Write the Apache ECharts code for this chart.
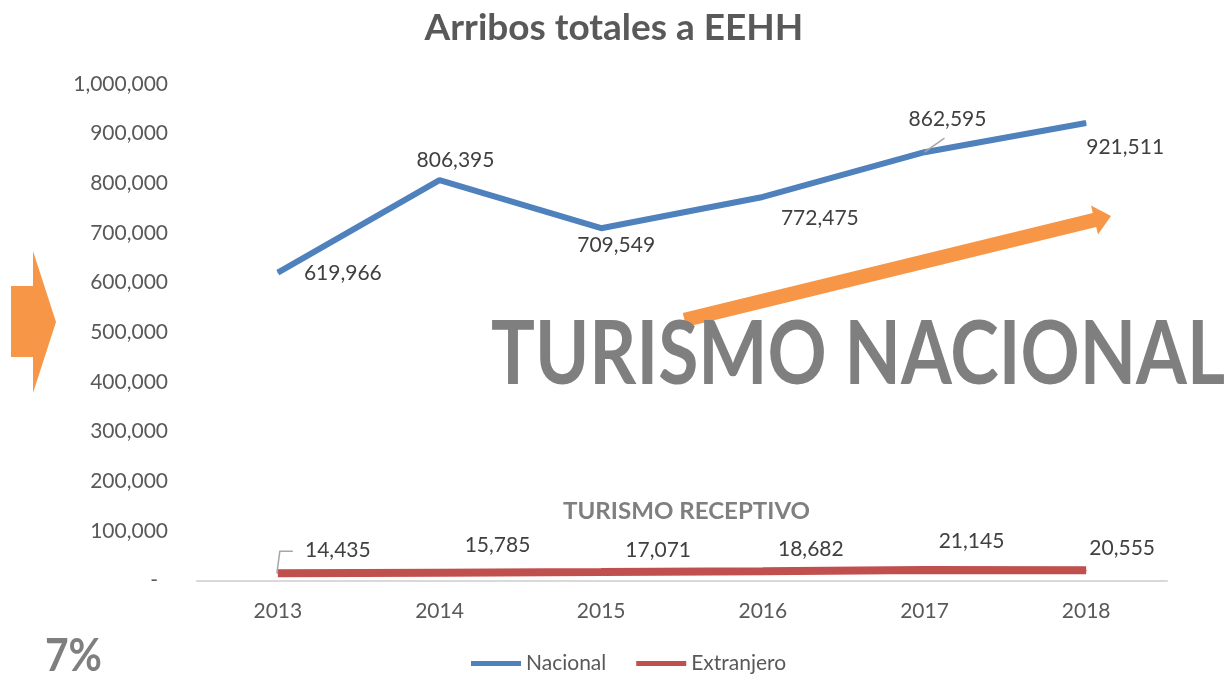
<!DOCTYPE html>
<html><head><meta charset="utf-8">
<script src="https://cdn.jsdelivr.net/npm/echarts@6/dist/echarts.min.js"></script>
<style>html,body{margin:0;padding:0;background:#fff}#c{width:1228px;height:676px}</style>
</head><body><div id="c"></div>
<script>
// ---- data ----
const years = ['2013', '2014', '2015', '2016', '2017', '2018'];
const nacional = [619966, 806395, 709549, 772475, 862595, 921511];
const extranjero = [14435, 15785, 17071, 18682, 21145, 20555];
const seriesNames = ['Nacional', 'Extranjero'];
const titleText = 'Arribos totales a EEHH';
const bigText = 'TURISMO NACIONAL';
const subText = 'TURISMO RECEPTIVO';
const pctText = '7%';

// ---- layout (label offsets from their points, in px) ----
const nacOff = [[65, 1], [16, -20], [15, 17], [57, 21], [23, -33], [39, 24]];
const extOff = [[60, -23], [58, -27], [57, -22], [48, -22], [47, -29], [36, -22]];
// leader lines: [seriesIndex, dataIndex, relative polyline from the point]
const leaders = [
  [0, 4, [[0, 0], [20, -14]]],
  [1, 0, [[-1, 0], [2, -22], [15, -22]]]
];

const FONT = 'Lato';
function fitScale(text, font, w) {
  const ctx = document.createElement('canvas').getContext('2d');
  ctx.font = font;
  return w / ctx.measureText(text).width;
}
const fmt = v => v.toLocaleString('en-US');

function items(vals, offs) {
  return vals.map((v, i) => ({ value: v, label: { offset: offs[i] } }));
}

const bigFont = 'bold 88px ' + FONT;
const subFont = 'bold 23px ' + FONT;
const pctFont = 'bold 46px ' + FONT;

const chart = echarts.init(document.getElementById('c'));
const labelCommon = { show: true, position: 'inside', formatter: p => fmt(p.value),
  fontFamily: FONT, fontSize: 21, color: '#404040' };

chart.setOption({
  animation: false,
  backgroundColor: '#ffffff',
  title: {
    text: titleText, left: 'center', top: 5,
    textStyle: { fontFamily: FONT, fontWeight: 'bold', fontSize: 37, color: '#595959' }
  },
  grid: { left: 197, right: 61, top: 84, bottom: 95.5 },
  legend: {
    data: seriesNames, left: 466, top: 648, icon: 'rect',
    itemWidth: 50, itemHeight: 5, itemGap: 30,
    textStyle: { fontFamily: FONT, fontSize: 21, color: '#595959' }
  },
  xAxis: {
    type: 'category', data: years, boundaryGap: true,
    axisLine: { lineStyle: { color: '#d9d9d9', width: 2 } },
    axisTick: { show: false },
    axisLabel: { margin: 20, fontFamily: FONT, fontSize: 21, color: '#595959' }
  },
  yAxis: {
    type: 'value', min: 0, max: 1000000, interval: 100000,
    splitLine: { show: false }, axisLine: { show: false }, axisTick: { show: false },
    axisLabel: {
      margin: 29, fontFamily: FONT, fontSize: 21, color: '#595959',
      formatter: v => v === 0 ? '{d|-}' : fmt(v),
      rich: { d: { fontFamily: FONT, fontSize: 21, color: '#595959', padding: [0, 10, 0, 0] } }
    }
  },
  series: [
    {
      name: seriesNames[0], type: 'line', data: items(nacional, nacOff),
      symbol: 'circle', symbolSize: 1, showSymbol: true,
      lineStyle: { color: '#4f81bd', width: 6 }, itemStyle: { color: '#4f81bd' },
      label: labelCommon, z: 3
    },
    {
      name: seriesNames[1], type: 'line', data: items(extranjero, extOff),
      symbol: 'circle', symbolSize: 1, showSymbol: true,
      lineStyle: { color: '#c0504d', width: 8 }, itemStyle: { color: '#c0504d' },
      label: labelCommon, z: 3
    }
  ],
  graphic: [
    { type: 'polygon', shape: { points: [[11, 286], [33, 286], [33, 251], [56, 322], [33, 393], [33, 357], [11, 357]] },
      style: { fill: '#f79646' }, z: 1 },
    { type: 'polygon', shape: { points: [[682.8, 312.9], [1092.8, 212.9], [1091, 205.4], [1111, 216], [1098, 234.6], [1096.2, 227.1], [686.2, 327.1]] },
      style: { fill: '#f79646' }, z: 1 },
    { type: 'text', x: 491, y: 356, scaleX: fitScale(bigText, bigFont, 734), originX: 0, z: 2,
      style: { text: bigText, font: bigFont, fill: '#7f7f7f', textAlign: 'left', textVerticalAlign: 'middle', align: 'left', verticalAlign: 'middle' } },
    { type: 'text', x: 563, y: 512, scaleX: fitScale(subText, subFont, 247), originX: 0, z: 2,
      style: { text: subText, font: subFont, fill: '#7f7f7f', textAlign: 'left', textVerticalAlign: 'middle', align: 'left', verticalAlign: 'middle' } },
    { type: 'text', x: 45, y: 656, scaleX: fitScale(pctText, pctFont, 57), originX: 0, z: 2,
      style: { text: pctText, font: pctFont, fill: '#7f7f7f', textAlign: 'left', textVerticalAlign: 'middle', align: 'left', verticalAlign: 'middle' } }
  ]
});

// leader lines anchored on the data points through the chart's own scales
const seriesData = [nacional, extranjero];
const leaderGraphics = leaders.map(([s, i, rel], k) => {
  const p = chart.convertToPixel({ seriesIndex: s }, [i, seriesData[s][i]]);
  return { id: 'leader' + k, type: 'polyline', z: 4,
    shape: { points: rel.map(r => [p[0] + r[0], p[1] + r[1]]) },
    style: { stroke: '#a6a6a6', lineWidth: 1.5, fill: null } };
});
chart.setOption({ graphic: leaderGraphics });
</script></body></html>
